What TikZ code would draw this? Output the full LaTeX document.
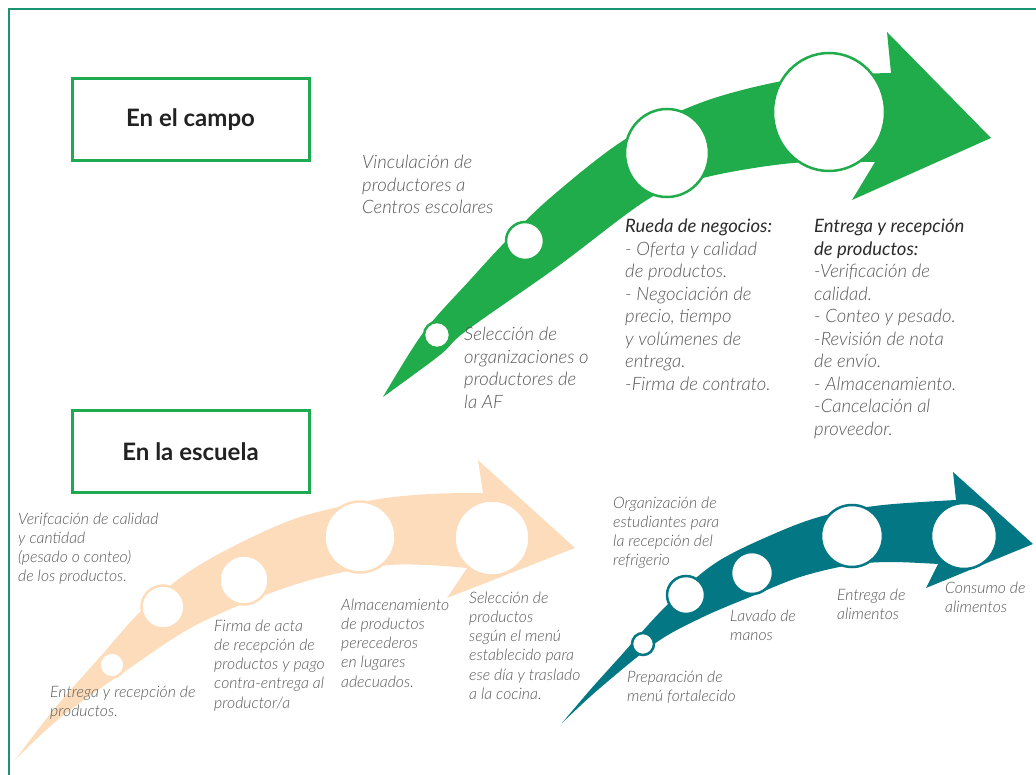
\documentclass[tikz,border=0pt]{standalone}
\usepackage{fontspec}
\setmainfont{Lato}
\newfontfamily\lightit{Lato Light Italic}
\usetikzlibrary{shapes.geometric}

\definecolor{framecol}{HTML}{1A9370}
\definecolor{boxcol}{HTML}{1DAA50}
\definecolor{gcol}{HTML}{21AC4B}
\definecolor{bcol}{HTML}{FDDCBB}
\definecolor{tcol}{HTML}{037884}
\definecolor{txtcol}{HTML}{575757}
\definecolor{headcol}{HTML}{2B2B2B}
\definecolor{titlecol}{HTML}{222222}

\newcommand\hdfont{\normalfont\itshape\color{headcol}}
\newcommand\lines[1]{\begin{tabular}[t]{@{}l@{}}#1\end{tabular}}

\tikzset{
  frameline/.style={draw=framecol, line width=2.5pt},
  titlebox/.style={draw=boxcol, line width=3pt, minimum width=237pt, minimum height=82pt,
    inner sep=0pt, text=titlecol, font=\fontsize{24}{29}\selectfont\bfseries},
  gtext/.style={anchor=base west, inner sep=0pt, text=txtcol,
    font=\fontsize{18.5}{22.5}\selectfont\lightit},
  stext/.style={anchor=base west, inner sep=0pt, text=txtcol,
    font=\fontsize{15.8}{19.3}\selectfont\lightit},
  dot/.style={ellipse, fill=white, line width=2.5pt, inner sep=0pt},
  gdot/.style={dot, draw=gcol},
  bdot/.style={dot, draw=bcol},
  tdot/.style={dot, draw=tcol},
}

\begin{document}
\begin{tikzpicture}[x=1pt,y=-1pt]
\useasboundingbox (0,0) rectangle (1036,775);

% outer frame (runs off the right and bottom edges)
\draw[frameline] (9,800) -- (9,9) -- (1060,9);

% ---------- field: green arrow ----------
\fill[gcol] (383,397)
  -- plot[smooth,tension=0.55] coordinates {(383,397) (423,333) (470,280) (507,240) (550,198) (624,140) (700,103) (777,82) (840,75) (891,73)}
  -- (887,32) -- (991,138) -- (852,200) -- (875,162)
  -- plot[smooth,tension=0.55] coordinates {(875,162) (793,163) (707,177) (650,198) (557,267) (466,331) (440,355) (383,397)}
  -- cycle;

\node[gdot, minimum width=26pt, minimum height=26pt] (g1) at (437,335) {};
\node[gdot, minimum width=38pt, minimum height=38pt] (g2) at (525,241) {};
\node[gdot, minimum width=84pt, minimum height=88pt] (g3) at (667,153) {};
\node[gdot, minimum width=112pt, minimum height=118pt] (g4) at (829,112) {};

\node[titlebox] (campo) at (190.5,119.5) {En el campo};

\node[gtext] (gvinc) at (362,169) {\lines{Vinculación de\\productores a\\Centros escolares}};
\node[gtext] (gsel) at (464,341) {\lines{Selección de\\organizaciones o\\productores de\\la AF}};
\node[gtext] (grueda) at (625,233) {\lines{{\hdfont Rueda de negocios:}\\- Oferta y calidad\\de productos.\\- Negociación de\\precio, tiempo\\y volúmenes de\\entrega.\\-Firma de contrato.}};
\node[gtext] (gentrega) at (814,233) {\lines{{\hdfont Entrega y recepción}\\{\hdfont de productos:}\\-Verificación de\\calidad.\\- Conteo y pesado.\\-Revisión de nota\\de envío.\\- Almacenamiento.\\-Cancelación al\\proveedor.}};

% ---------- school: peach arrow ----------
\fill[bcol] (15,760)
  -- plot[smooth,tension=0.55] coordinates {(15,760) (55,708) (100,657) (140,612) (187,573) (240,543) (300,517) (373,500) (430,494) (483,493)}
  -- (478,460) -- (575,548) -- (447,598) -- (467,568)
  -- plot[smooth,tension=0.55] coordinates {(467,568) (390,565) (300,583) (200,623) (127,670) (60,718) (15,760)}
  -- cycle;

\node[bdot, minimum width=25pt, minimum height=25pt] (b1) at (112,665) {};
\node[bdot, minimum width=43pt, minimum height=43pt] (b2) at (163,607) {};
\node[bdot, minimum width=49pt, minimum height=49pt] (b3) at (244,580) {};
\node[bdot, minimum width=71pt, minimum height=71pt] (b4) at (360,537) {};
\node[bdot, minimum width=75pt, minimum height=75pt] (b5) at (492,538) {};

\node[titlebox] (escuela) at (190.5,451.5) {En la escuela};

\node[stext] (bverif) at (18,524) {\lines{Verifcación de calidad\\y cantidad\\(pesado o conteo)\\de los productos.}};
\node[stext] (bentrega) at (50,697) {\lines{Entrega y recepción de\\productos.}};
\node[stext] (bfirma) at (214,631) {\lines{Firma de acta\\de recepción de\\productos y pago\\contra-entrega al\\productor/a}};
\node[stext] (balmac) at (341,610) {\lines{Almacenamiento\\de productos\\perecederos\\en lugares\\adecuados.}};
\node[stext] (bsel) at (469,603) {\lines{Selección de\\productos\\según el menú\\establecido para\\ese día y traslado\\a la cocina.}};

% ---------- school: teal arrow ----------
\fill[tcol] (562,723)
  -- plot[smooth,tension=0.55] coordinates {(562,723) (590,690) (617,660) (667,605) (717,562) (783,530) (830,514) (883,505) (956,500)}
  -- (953,472) -- (1033,544) -- (926,588) -- (938,564)
  -- plot[smooth,tension=0.55] coordinates {(938,564) (890,562) (850,565) (800,577) (750,597) (703,617) (657,642) (600,688) (562,723)}
  -- cycle;

\node[tdot, minimum width=22pt, minimum height=22pt] (t1) at (643,644) {};
\node[tdot, minimum width=38pt, minimum height=38pt] (t2) at (686,595) {};
\node[tdot, minimum width=42pt, minimum height=42pt] (t3) at (752,573) {};
\node[tdot, minimum width=62pt, minimum height=62pt] (t4) at (852,536) {};
\node[tdot, minimum width=66pt, minimum height=66pt] (t5) at (964,536) {};

\node[stext] (torg) at (613,508) {\lines{Organización de\\estudiantes para\\la recepción del\\refrigerio}};
\node[stext] (tprep) at (627,682) {\lines{Preparación de\\menú fortalecido}};
\node[stext] (tlav) at (730,621) {\lines{Lavado de\\manos}};
\node[stext] (tentr) at (837,600) {\lines{Entrega de\\alimentos}};
\node[stext] (tcons) at (945,593) {\lines{Consumo de\\alimentos}};

\end{tikzpicture}
\end{document}
